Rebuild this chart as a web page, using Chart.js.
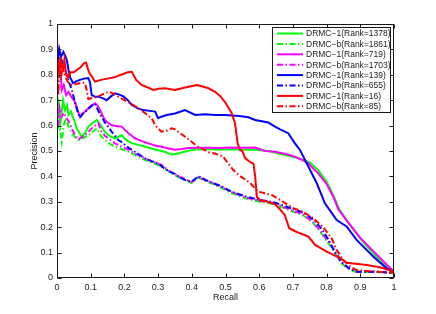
<!DOCTYPE html>
<html>
<head>
<meta charset="utf-8">
<title>Precision / Recall</title>
<script src="https://cdn.jsdelivr.net/npm/chart.js@4.4.1/dist/chart.umd.min.js"></script>
<style>
  html, body { margin: 0; padding: 0; background: #fff; }
  #wrap { width: 436px; height: 314px; }
</style>
</head>
<body>
<div id="wrap"><canvas id="chart" width="436" height="314"></canvas></div>
<script>
'use strict';

// ─── Data ─────────────────────────────────────────────────────────────────────

const TICK_LABELS = ['0', '0.1', '0.2', '0.3', '0.4', '0.5', '0.6', '0.7', '0.8', '0.9', '1'];

const SERIES_NAMES = [
  'DRMC−1(Rank=1378)', 'DRMC−b(Rank=1861)',
  'DRMC−1(Rank=719)',  'DRMC−b(Rank=1703)',
  'DRMC−1(Rank=139)',  'DRMC−b(Rank=655)',
  'DRMC−1(Rank=16)',   'DRMC−b(Rank=85)',
];

// green solid
const g1Recall = [0, 0.005, 0.01, 0.018, 0.024, 0.03, 0.034, 0.042, 0.048, 0.053, 0.058, 0.065, 0.073, 0.08, 0.088, 0.093, 0.105, 0.118, 0.125, 0.132, 0.142, 0.152, 0.162, 0.172, 0.182, 0.192, 0.2, 0.212, 0.225, 0.241, 0.26, 0.281, 0.3, 0.32, 0.34, 0.36, 0.38, 0.4, 0.42, 0.45, 0.48, 0.518, 0.55, 0.597, 0.63, 0.662, 0.69, 0.72, 0.75, 0.775, 0.8, 0.82, 0.838, 0.857, 0.877, 0.9, 0.92, 0.94, 0.96, 0.98, 1.0];
const g1Prec   = [0.62, 0.68, 0.61, 0.7, 0.66, 0.68, 0.642, 0.655, 0.63, 0.615, 0.59, 0.575, 0.556, 0.565, 0.583, 0.595, 0.61, 0.622, 0.61, 0.596, 0.575, 0.563, 0.555, 0.55, 0.556, 0.563, 0.55, 0.537, 0.53, 0.524, 0.518, 0.51, 0.503, 0.497, 0.486, 0.49, 0.498, 0.504, 0.507, 0.508, 0.505, 0.507, 0.506, 0.504, 0.5, 0.488, 0.48, 0.47, 0.455, 0.425, 0.38, 0.325, 0.27, 0.232, 0.195, 0.155, 0.125, 0.095, 0.065, 0.04, 0.025];

// green dash-dot
const g2Recall = [0, 0.004, 0.009, 0.014, 0.02, 0.026, 0.033, 0.044, 0.053, 0.063, 0.073, 0.083, 0.093, 0.105, 0.118, 0.13, 0.142, 0.155, 0.172, 0.19, 0.212, 0.231, 0.251, 0.27, 0.29, 0.31, 0.335, 0.36, 0.38, 0.4, 0.42, 0.44, 0.464, 0.489, 0.518, 0.558, 0.597, 0.637, 0.662, 0.7, 0.73, 0.76, 0.783, 0.807, 0.827, 0.847, 0.867, 0.887, 0.95, 1.0];
const g2Prec   = [0.66, 0.58, 0.583, 0.537, 0.6, 0.63, 0.6, 0.57, 0.555, 0.543, 0.548, 0.555, 0.56, 0.575, 0.589, 0.56, 0.543, 0.53, 0.517, 0.508, 0.497, 0.485, 0.47, 0.46, 0.45, 0.44, 0.416, 0.396, 0.386, 0.374, 0.395, 0.382, 0.37, 0.354, 0.334, 0.314, 0.301, 0.293, 0.281, 0.262, 0.247, 0.217, 0.178, 0.133, 0.093, 0.054, 0.034, 0.024, 0.024, 0.02];

// magenta solid
const m1Recall = [0, 0.004, 0.008, 0.014, 0.02, 0.027, 0.034, 0.044, 0.053, 0.06, 0.068, 0.075, 0.083, 0.093, 0.103, 0.113, 0.12, 0.128, 0.135, 0.142, 0.152, 0.162, 0.175, 0.192, 0.2, 0.212, 0.222, 0.231, 0.25, 0.271, 0.29, 0.31, 0.33, 0.35, 0.37, 0.39, 0.42, 0.45, 0.484, 0.518, 0.55, 0.588, 0.617, 0.647, 0.68, 0.706, 0.73, 0.746, 0.775, 0.8, 0.82, 0.835, 0.855, 0.875, 0.9, 0.94, 0.98, 1.0];
const m1Prec   = [0.88, 0.8, 0.86, 0.74, 0.76, 0.72, 0.733, 0.71, 0.694, 0.665, 0.635, 0.645, 0.655, 0.668, 0.68, 0.688, 0.68, 0.661, 0.64, 0.622, 0.61, 0.602, 0.598, 0.596, 0.585, 0.57, 0.56, 0.55, 0.54, 0.53, 0.522, 0.517, 0.51, 0.505, 0.508, 0.512, 0.513, 0.513, 0.512, 0.514, 0.513, 0.514, 0.5, 0.497, 0.488, 0.478, 0.463, 0.451, 0.412, 0.37, 0.32, 0.27, 0.235, 0.2, 0.158, 0.104, 0.05, 0.025];

// magenta dash-dot
const m2Recall = [0, 0.004, 0.008, 0.014, 0.02, 0.029, 0.037, 0.044, 0.053, 0.063, 0.073, 0.083, 0.093, 0.103, 0.113, 0.123, 0.132, 0.142, 0.152, 0.162, 0.172, 0.192, 0.212, 0.231, 0.251, 0.271, 0.29, 0.31, 0.335, 0.36, 0.38, 0.4, 0.42, 0.44, 0.464, 0.489, 0.518, 0.558, 0.597, 0.637, 0.662, 0.7, 0.73, 0.76, 0.785, 0.81, 0.83, 0.85, 0.87, 0.89, 0.95, 1.0];
const m2Prec   = [0.7, 0.6, 0.67, 0.635, 0.65, 0.629, 0.61, 0.589, 0.565, 0.545, 0.555, 0.563, 0.575, 0.589, 0.6, 0.609, 0.576, 0.56, 0.55, 0.54, 0.53, 0.517, 0.505, 0.49, 0.478, 0.465, 0.455, 0.445, 0.42, 0.4, 0.39, 0.378, 0.398, 0.385, 0.373, 0.358, 0.338, 0.318, 0.305, 0.297, 0.285, 0.265, 0.25, 0.22, 0.18, 0.135, 0.095, 0.055, 0.035, 0.025, 0.025, 0.02];

// blue solid
const b1Recall = [0, 0.003, 0.007, 0.012, 0.019, 0.024, 0.029, 0.034, 0.039, 0.048, 0.058, 0.068, 0.08, 0.093, 0.098, 0.103, 0.113, 0.123, 0.137, 0.147, 0.16, 0.172, 0.185, 0.197, 0.21, 0.222, 0.24, 0.256, 0.275, 0.291, 0.3, 0.31, 0.325, 0.35, 0.38, 0.41, 0.44, 0.469, 0.5, 0.54, 0.568, 0.588, 0.627, 0.647, 0.662, 0.686, 0.706, 0.721, 0.731, 0.751, 0.771, 0.795, 0.83, 0.86, 0.889, 0.939, 0.978, 1.0];
const b1Prec   = [0.937, 0.86, 0.9, 0.87, 0.89, 0.875, 0.858, 0.82, 0.79, 0.767, 0.775, 0.78, 0.785, 0.787, 0.77, 0.72, 0.714, 0.714, 0.707, 0.7, 0.715, 0.727, 0.722, 0.715, 0.7, 0.681, 0.668, 0.661, 0.658, 0.655, 0.629, 0.635, 0.642, 0.648, 0.661, 0.642, 0.645, 0.642, 0.642, 0.638, 0.633, 0.622, 0.612, 0.596, 0.585, 0.57, 0.53, 0.504, 0.478, 0.425, 0.373, 0.294, 0.228, 0.202, 0.15, 0.084, 0.038, 0.025];

// blue dash-dot
const b2Recall = [0, 0.004, 0.01, 0.019, 0.029, 0.036, 0.044, 0.053, 0.06, 0.068, 0.075, 0.085, 0.095, 0.105, 0.113, 0.12, 0.13, 0.142, 0.152, 0.162, 0.172, 0.182, 0.192, 0.202, 0.215, 0.231, 0.245, 0.261, 0.28, 0.3, 0.32, 0.335, 0.35, 0.37, 0.385, 0.4, 0.42, 0.435, 0.45, 0.47, 0.489, 0.518, 0.558, 0.597, 0.637, 0.662, 0.7, 0.735, 0.765, 0.79, 0.81, 0.825, 0.845, 0.87, 0.89, 0.95, 1.0];
const b2Prec   = [0.9, 0.84, 0.87, 0.84, 0.8, 0.77, 0.74, 0.694, 0.66, 0.63, 0.645, 0.655, 0.668, 0.68, 0.686, 0.665, 0.64, 0.612, 0.595, 0.576, 0.56, 0.543, 0.535, 0.524, 0.51, 0.497, 0.485, 0.471, 0.46, 0.451, 0.43, 0.418, 0.41, 0.392, 0.383, 0.38, 0.4, 0.39, 0.38, 0.37, 0.36, 0.34, 0.322, 0.308, 0.3, 0.29, 0.272, 0.255, 0.225, 0.185, 0.14, 0.1, 0.06, 0.035, 0.025, 0.025, 0.02];

// red solid
const r1Recall = [0, 0.003, 0.007, 0.01, 0.014, 0.018, 0.022, 0.027, 0.033, 0.04, 0.05, 0.06, 0.07, 0.08, 0.086, 0.095, 0.105, 0.113, 0.13, 0.15, 0.17, 0.19, 0.21, 0.222, 0.235, 0.251, 0.27, 0.286, 0.3, 0.32, 0.35, 0.38, 0.415, 0.448, 0.469, 0.485, 0.5, 0.518, 0.528, 0.536, 0.543, 0.55, 0.558, 0.575, 0.583, 0.588, 0.593, 0.602, 0.625, 0.647, 0.662, 0.676, 0.689, 0.705, 0.721, 0.746, 0.766, 0.8, 0.84, 0.86, 0.919, 0.958, 1.0];
const r1Prec   = [0.75, 0.86, 0.8, 0.87, 0.83, 0.82, 0.86, 0.8, 0.79, 0.81, 0.81, 0.82, 0.83, 0.845, 0.848, 0.81, 0.79, 0.773, 0.78, 0.785, 0.79, 0.8, 0.81, 0.812, 0.78, 0.76, 0.75, 0.74, 0.745, 0.747, 0.74, 0.75, 0.76, 0.748, 0.733, 0.715, 0.69, 0.65, 0.61, 0.53, 0.504, 0.5, 0.472, 0.455, 0.45, 0.4, 0.32, 0.307, 0.3, 0.29, 0.27, 0.248, 0.196, 0.185, 0.176, 0.163, 0.13, 0.104, 0.078, 0.06, 0.051, 0.042, 0.025];

// red dash-dot
const r2Recall = [0, 0.004, 0.008, 0.012, 0.016, 0.02, 0.026, 0.033, 0.044, 0.06, 0.075, 0.083, 0.088, 0.093, 0.105, 0.118, 0.13, 0.142, 0.152, 0.165, 0.18, 0.2, 0.222, 0.241, 0.251, 0.265, 0.281, 0.291, 0.31, 0.325, 0.34, 0.35, 0.38, 0.418, 0.45, 0.469, 0.493, 0.5, 0.523, 0.545, 0.573, 0.597, 0.637, 0.662, 0.701, 0.731, 0.761, 0.79, 0.815, 0.83, 0.85, 0.87, 0.889, 0.949, 1.0];
const r2Prec   = [0.8, 0.72, 0.85, 0.78, 0.84, 0.81, 0.79, 0.77, 0.76, 0.765, 0.77, 0.767, 0.74, 0.705, 0.709, 0.712, 0.72, 0.727, 0.733, 0.728, 0.715, 0.7, 0.685, 0.668, 0.66, 0.645, 0.629, 0.602, 0.576, 0.58, 0.589, 0.585, 0.556, 0.517, 0.495, 0.49, 0.478, 0.465, 0.425, 0.4, 0.374, 0.34, 0.327, 0.307, 0.275, 0.26, 0.235, 0.2, 0.156, 0.11, 0.07, 0.045, 0.031, 0.025, 0.02];

// ─── Styling ──────────────────────────────────────────────────────────────────

const FONT = "'Liberation Sans', Arial, Helvetica, sans-serif";
const TEXT_COLOR = '#222';
const DASH_DOT = [6, 2.5, 1.5, 2.5];

function toPoints(xs, ys) {
  return xs.map((x, i) => ({ x, y: ys[i] }));
}

function series(idx, xs, ys, color, dashed) {
  return {
    label: SERIES_NAMES[idx],
    data: toPoints(xs, ys),
    borderColor: color,
    backgroundColor: color,
    borderWidth: 2,
    borderDash: dashed ? DASH_DOT : [],
    pointRadius: 0,
    showLine: true,
    tension: 0,
    // later series sit on top, as in the original plot
    order: 8 - idx,
  };
}

const datasets = [
  series(0, g1Recall, g1Prec, '#00ff00', false),
  series(1, g2Recall, g2Prec, '#00ff00', true),
  series(2, m1Recall, m1Prec, '#ff00ff', false),
  series(3, m2Recall, m2Prec, '#ff00ff', true),
  series(4, b1Recall, b1Prec, '#0000ff', false),
  series(5, b2Recall, b2Prec, '#0000ff', true),
  series(6, r1Recall, r1Prec, '#ff0000', false),
  series(7, r2Recall, r2Prec, '#ff0000', true),
];

// ─── Box, inward ticks and legend ─────────────────────────────────────────────

const boxPlugin = {
  id: 'matlabBox',
  afterDraw(chart) {
    const { ctx, chartArea: a, scales } = chart;
    const L = Math.round(a.left) + 0.5;
    const R = Math.round(a.right) - 0.5;
    const T = Math.round(a.top) + 0.5;
    const B = Math.round(a.bottom) - 0.5;
    const tl = 4;

    ctx.save();
    ctx.strokeStyle = '#1a1a1a';
    ctx.lineWidth = 1;
    ctx.strokeRect(L, T, R - L, B - T);

    ctx.beginPath();
    scales.x.ticks.forEach((t) => {
      const px = Math.round(scales.x.getPixelForValue(t.value)) + 0.5;
      ctx.moveTo(px, B); ctx.lineTo(px, B - tl);
      ctx.moveTo(px, T); ctx.lineTo(px, T + tl);
    });
    scales.y.ticks.forEach((t) => {
      const py = Math.round(scales.y.getPixelForValue(t.value)) + 0.5;
      ctx.moveTo(L, py); ctx.lineTo(L + tl, py);
      ctx.moveTo(R, py); ctx.lineTo(R - tl, py);
    });
    ctx.stroke();

    // legend box
    const lx = 272.5, ly = 27.5, lw = 118, lh = 85;
    ctx.fillStyle = '#fff';
    ctx.fillRect(lx, ly, lw, lh);
    ctx.strokeStyle = '#1a1a1a';
    ctx.strokeRect(lx, ly, lw, lh);

    ctx.font = `8.5px ${FONT}`;
    ctx.textBaseline = 'middle';
    ctx.textAlign = 'left';
    chart.data.datasets.forEach((ds, i) => {
      const y = 33.5 + i * 10.4;
      ctx.beginPath();
      ctx.strokeStyle = ds.borderColor;
      ctx.lineWidth = 2;
      ctx.setLineDash(ds.borderDash);
      ctx.moveTo(277, y);
      ctx.lineTo(303, y);
      ctx.stroke();
      ctx.setLineDash([]);
      ctx.fillStyle = TEXT_COLOR;
      ctx.fillText(ds.label, 306, y + 0.5);
    });
    ctx.restore();
  },
};

// ─── Chart ────────────────────────────────────────────────────────────────────

const tickFont = { family: FONT, size: 9 };

new Chart(document.getElementById('chart'), {
  type: 'scatter',
  data: { datasets },
  options: {
    responsive: false,
    animation: false,
    devicePixelRatio: 1,
    layout: { padding: { left: 0, top: 24, right: 42, bottom: 0 } },
    plugins: {
      legend: { display: false },
      tooltip: { enabled: false },
    },
    scales: {
      x: {
        type: 'linear',
        min: 0,
        max: 1,
        afterFit: (s) => { s.height = 36; },
        grid: { display: false, drawTicks: false },
        border: { display: false },
        ticks: {
          stepSize: 0.1,
          padding: 4,
          color: TEXT_COLOR,
          font: tickFont,
          maxRotation: 0,
          callback: (v, i) => TICK_LABELS[i],
        },
        title: {
          display: true,
          text: 'Recall',
          color: TEXT_COLOR,
          font: tickFont,
          padding: { top: 0, bottom: 11 },
        },
      },
      y: {
        type: 'linear',
        min: 0,
        max: 1,
        afterFit: (s) => { s.width = 57; },
        grid: { display: false, drawTicks: false },
        border: { display: false },
        ticks: {
          stepSize: 0.1,
          padding: 4,
          color: TEXT_COLOR,
          font: tickFont,
          callback: (v, i) => TICK_LABELS[i],
        },
        title: {
          display: true,
          text: 'Precision',
          color: TEXT_COLOR,
          font: tickFont,
          padding: { top: 29, bottom: 0 },
        },
      },
    },
  },
  plugins: [boxPlugin],
});
</script>
</body>
</html>
